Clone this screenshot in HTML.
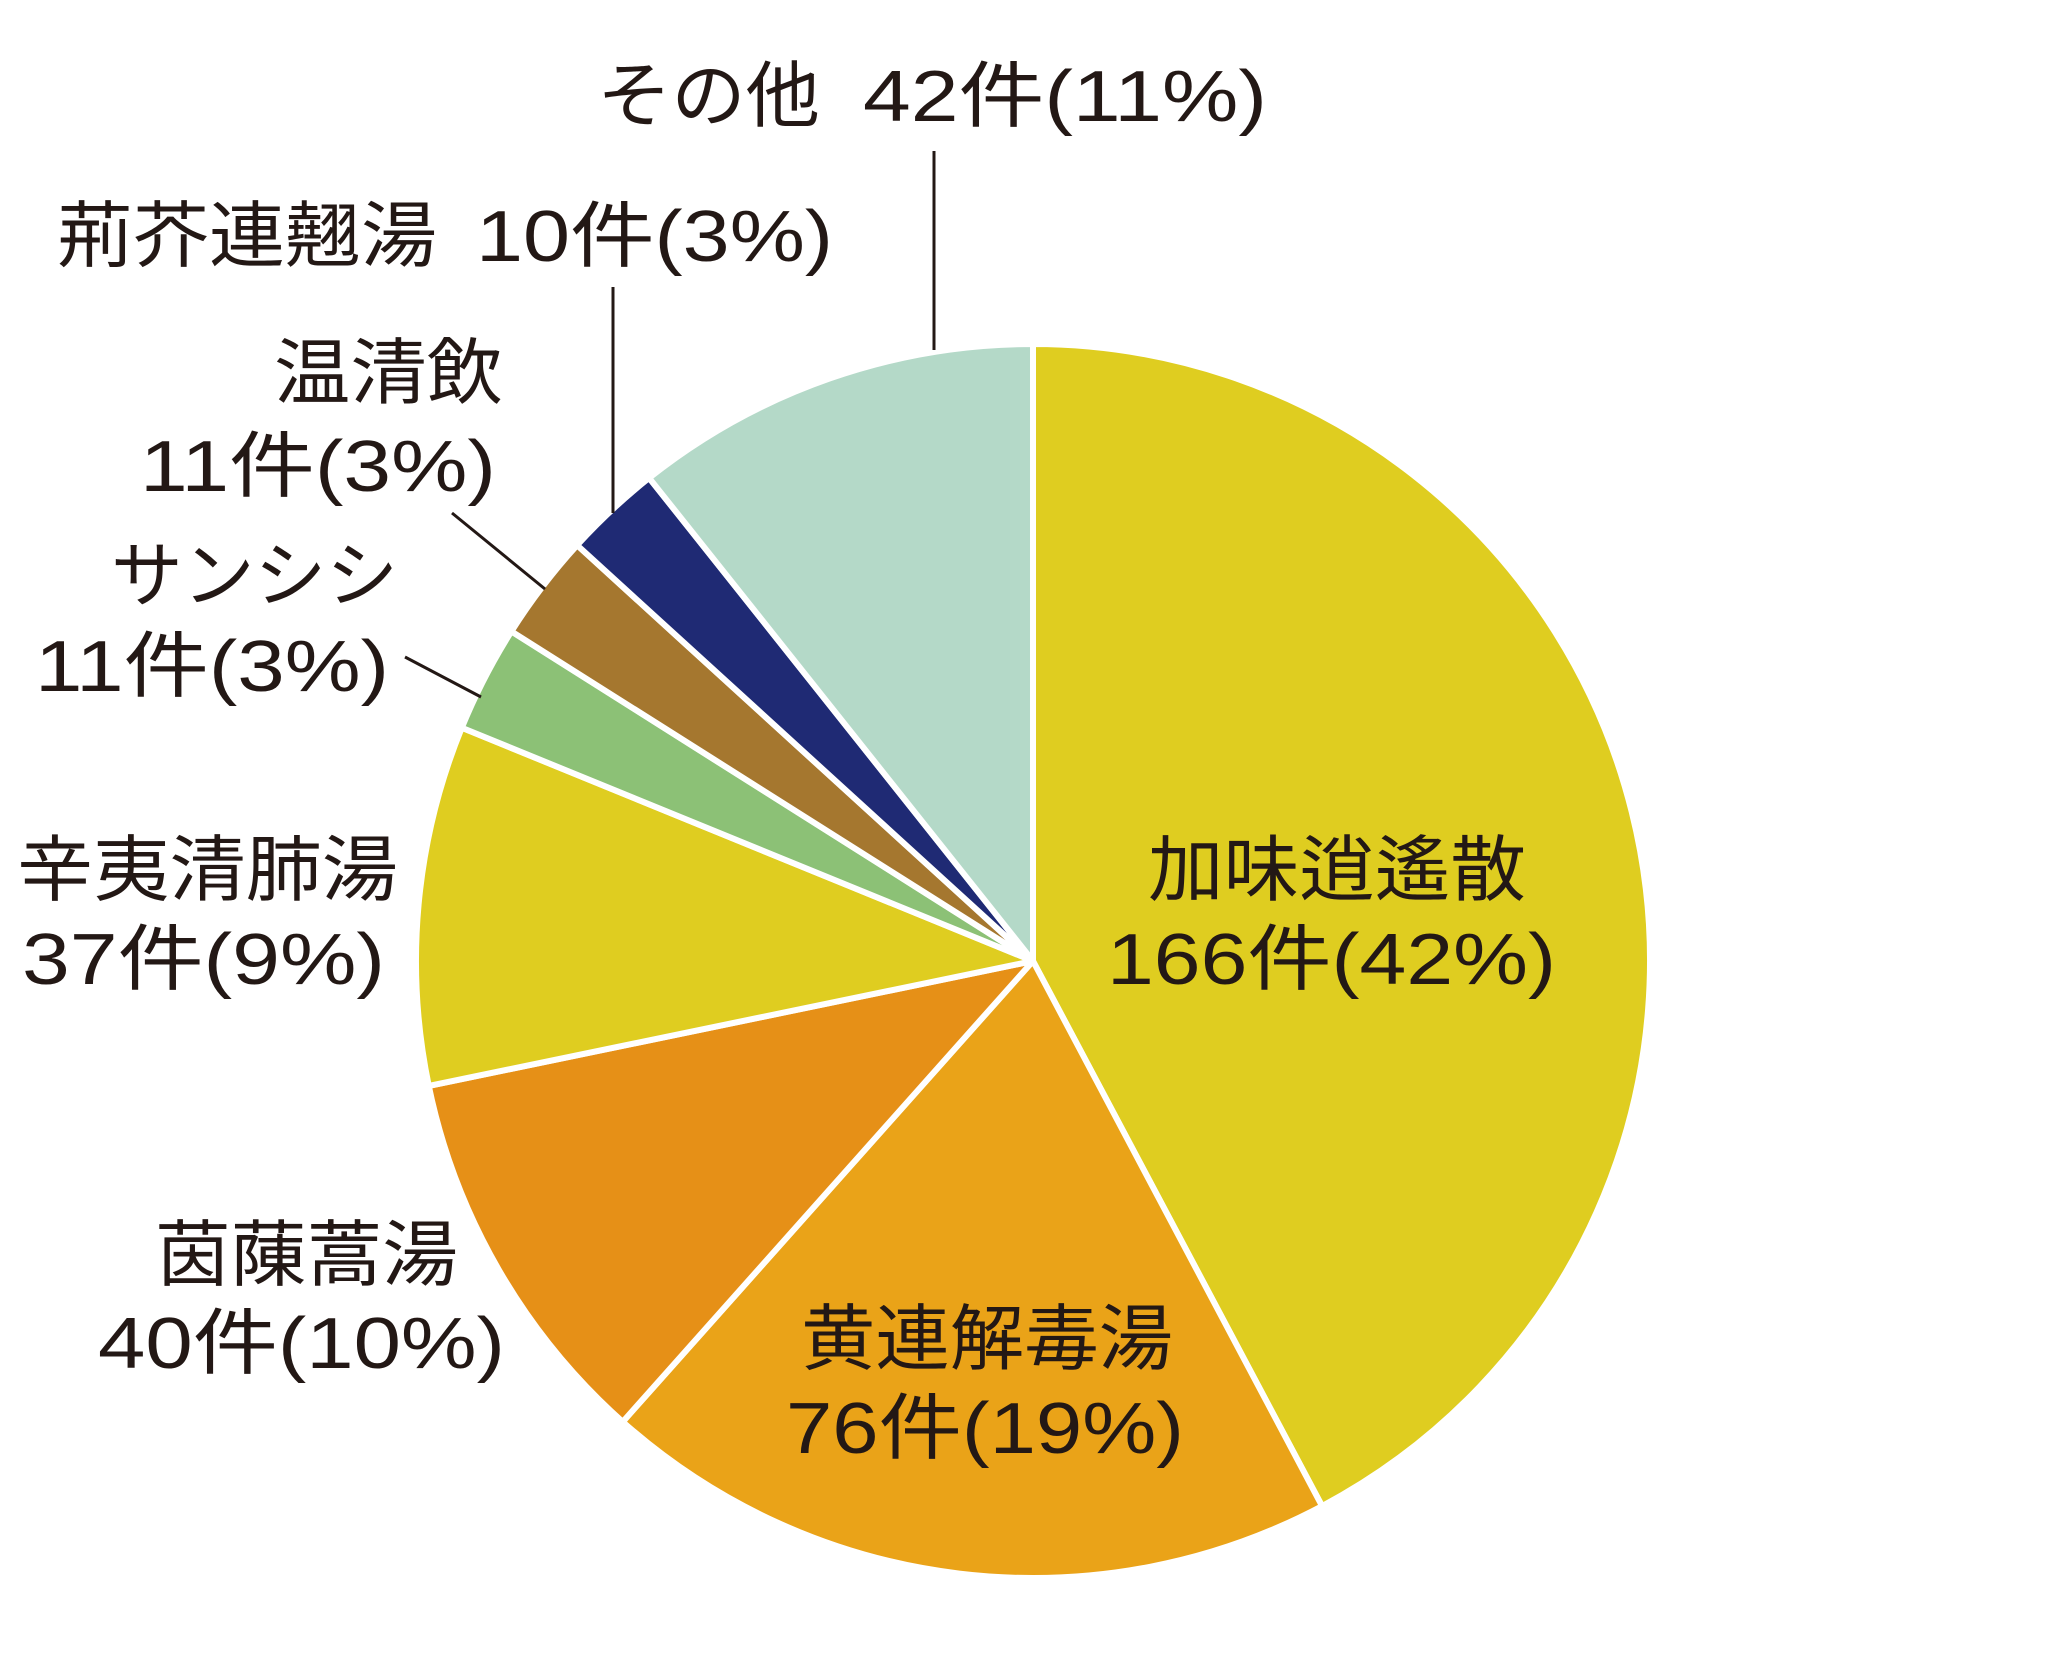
<!DOCTYPE html>
<html><head><meta charset="utf-8"><style>
html,body{margin:0;padding:0;background:#fff;}
svg{display:block}
text{font-family:"Liberation Sans","Noto Sans CJK JP",sans-serif;font-size:72px;fill:#231815;}
</style></head><body>
<svg id="s" width="2067" height="1654" viewBox="0 0 2067 1654" xmlns="http://www.w3.org/2000/svg">
<g id="pie"></g>
<g stroke="#231815" stroke-width="3" fill="none">
<line x1="934" y1="151" x2="934" y2="350"/>
<line x1="613" y1="287" x2="613" y2="513"/>
<line x1="452" y1="513" x2="545" y2="589"/>
<line x1="405" y1="657" x2="481" y2="697"/>
</g>
<text x="597" y="121" textLength="223" lengthAdjust="spacingAndGlyphs">その他</text>
<text x="863" y="121" textLength="404" lengthAdjust="spacingAndGlyphs">42件(11%)</text>
<text x="57" y="261" textLength="380" lengthAdjust="spacingAndGlyphs">荊芥連翹湯</text>
<text x="476" y="261" textLength="357" lengthAdjust="spacingAndGlyphs">10件(3%)</text>
<text x="274" y="398" textLength="229" lengthAdjust="spacingAndGlyphs">温清飲</text>
<text x="140" y="491" textLength="356" lengthAdjust="spacingAndGlyphs">11件(3%)</text>
<text x="111" y="601" textLength="287" lengthAdjust="spacingAndGlyphs">サンシシ</text>
<text x="35" y="691" textLength="354" lengthAdjust="spacingAndGlyphs">11件(3%)</text>
<text x="17" y="895" textLength="381" lengthAdjust="spacingAndGlyphs">辛夷清肺湯</text>
<text x="22" y="984" textLength="363" lengthAdjust="spacingAndGlyphs">37件(9%)</text>
<text x="155" y="1280" textLength="303" lengthAdjust="spacingAndGlyphs">茵蔯蒿湯</text>
<text x="98" y="1368" textLength="407" lengthAdjust="spacingAndGlyphs">40件(10%)</text>
<text x="801" y="1364" textLength="372" lengthAdjust="spacingAndGlyphs">黄連解毒湯</text>
<text x="786" y="1453" textLength="398" lengthAdjust="spacingAndGlyphs">76件(19%)</text>
<text x="1148" y="895" textLength="378" lengthAdjust="spacingAndGlyphs">加味逍遙散</text>
<text x="1107" y="984" textLength="449" lengthAdjust="spacingAndGlyphs">166件(42%)</text>
</svg>
<script>
(function(){
var cx=1033,cy=961,r=617;
var d=[[166,"#DFCD20"],[76,"#EAA318"],[40,"#E69017"],[37,"#DFCD20"],[11,"#8CC176"],[11,"#A5772F"],[10,"#1F2A74"],[42,"#B4D9C8"]];
var t=0;d.forEach(function(x){t+=x[0];});
var a=0,g=document.getElementById("pie"),h="";
d.forEach(function(x){
var a0=a/t*2*Math.PI,a1=(a+x[0])/t*2*Math.PI;a+=x[0];
var x0=cx+r*Math.sin(a0),y0=cy-r*Math.cos(a0),x1=cx+r*Math.sin(a1),y1=cy-r*Math.cos(a1);
var lg=(a1-a0)>Math.PI?1:0;
h+='<path d="M'+cx+' '+cy+'L'+x0.toFixed(2)+' '+y0.toFixed(2)+'A'+r+' '+r+' 0 '+lg+' 1 '+x1.toFixed(2)+' '+y1.toFixed(2)+'Z" fill="'+x[1]+'" stroke="#fff" stroke-width="6" stroke-linejoin="round"/>';
});
g.innerHTML=h;
})();
</script>
</body></html>
